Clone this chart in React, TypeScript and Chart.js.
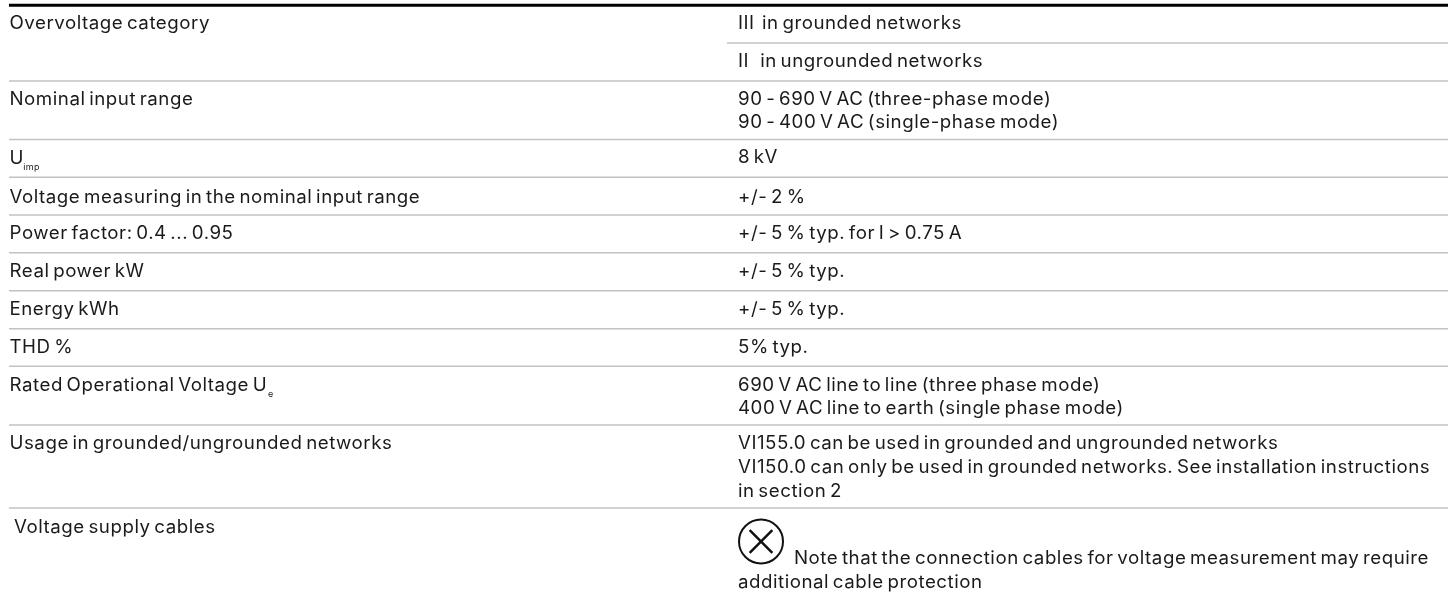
import React, { useEffect, useRef } from "react";
import { Chart, registerables } from "chart.js";

Chart.register(...registerables);

const FONT_FAMILY = "Inter";
const FONT_SIZE = 18;
const LETTER_SPACING = "0.5px";
const WORD_SPACING = "-2px";
const GLYPH_STRETCH = 1.04;
const TEXT_COLOR = "#1a1a1a";

const ruleRows = [43, 81, 139.5, 177.3, 215, 252.7, 290.7, 328.7, 366.3, 425, 508];
const ruleStarts = [727, 9, 9, 9, 9, 9, 9, 9, 9, 9, 9];
const topRuleRow = 5.3;

const leftLabels = [
  "Overvoltage category",
  "Nominal input range",
  "U",
  "Voltage measuring in the nominal input range",
  "Power factor: 0.4 ... 0.95",
  "Real power kW",
  "Energy kWh",
  "THD %",
  "Rated Operational Voltage U",
  "Usage in grounded/ungrounded networks",
  "Voltage supply cables",
];
const leftRows = [29, 105, 164, 202.7, 239.3, 277, 315, 353.3, 391.3, 449, 532.7];
const leftColumns = [9.5, 9.5, 9.5, 9.5, 9.5, 9.5, 9.5, 9.5, 9.5, 9.5, 14];

const subscriptLabels = ["imp", "e"];
const subscriptRows = [170, 396.7];
const subscriptColumns = [23.3, 268];

const rightLabels = [
  "III  in grounded networks",
  "II   in ungrounded networks",
  "90 - 690 V AC (three-phase mode)",
  "90 - 400 V AC (single-phase mode)",
  "8 kV",
  "+/- 2 %",
  "+/- 5 % typ. for I > 0.75 A",
  "+/- 5 % typ.",
  "+/- 5 % typ.",
  "5% typ.",
  "690 V AC line to line (three phase mode)",
  "400 V AC line to earth (single phase mode)",
  "VI155.0 can be used in grounded and ungrounded networks",
  "VI150.0 can only be used in grounded networks. See installation instructions",
  "in section 2",
  "Note that the connection cables for voltage measurement may require",
  "additional cable protection",
];
const rightRows = [29, 67.3, 105, 128.3, 163.3, 202.7, 239.3, 277, 315, 353.3, 391.3, 414, 449, 472.7, 496.7, 564, 588];
const rightColumns = [738, 738, 738, 738, 738, 738, 738, 738, 738, 738, 738, 738, 738, 738, 738, 794, 738];

const iconColumn = [761];
const iconRow = [541.5];

const tableText = {
  id: "tableText",
  afterDatasetsDraw(chart: any) {
    const { ctx, scales } = chart;
    const put = (labels: string[], xs: number[], ys: number[], size: number, body: boolean) => {
      ctx.save();
      ctx.fillStyle = TEXT_COLOR;
      ctx.font = `${size}px ${FONT_FAMILY}`;
      ctx.letterSpacing = body ? LETTER_SPACING : "0.3px";
      ctx.wordSpacing = body ? WORD_SPACING : "0px";
      ctx.textBaseline = "alphabetic";
      ctx.textAlign = "left";
      labels.forEach((t, i) => {
        ctx.save();
        ctx.translate(scales.x.getPixelForValue(xs[i]), scales.y.getPixelForValue(ys[i]));
        ctx.scale(body ? GLYPH_STRETCH : 1, 1);
        ctx.fillText(t, 0, 0);
        ctx.restore();
      });
      ctx.restore();
    };
    put(leftLabels, leftColumns, leftRows, FONT_SIZE, true);
    put(rightLabels, rightColumns, rightRows, FONT_SIZE, true);
    put(subscriptLabels, subscriptColumns, subscriptRows, 9, false);
  },
};

export default function App() {
  const ref = useRef<HTMLCanvasElement>(null);
  useEffect(() => {
    const ruleSets = ruleRows.map((y, i) => ({
      type: "line" as const,
      data: [{ x: ruleStarts[i], y }, { x: 1448, y }],
      borderColor: "#c2c2c2",
      borderWidth: 1.5,
      pointRadius: 0,
      showLine: true,
    }));
    const chart = new Chart(ref.current!, {
      type: "scatter",
      data: {
        datasets: [
          {
            type: "line",
            data: [{ x: 9, y: topRuleRow }, { x: 1448, y: topRuleRow }],
            borderColor: "#000000",
            borderWidth: 3,
            pointRadius: 0,
            showLine: true,
          },
          ...ruleSets,
          {
            data: iconColumn.map((x, i) => ({ x, y: iconRow[i] })),
            pointStyle: "circle",
            pointRadius: 22,
            pointBorderColor: "#111111",
            pointBorderWidth: 2,
            pointBackgroundColor: "transparent",
          },
          {
            data: iconColumn.map((x, i) => ({ x, y: iconRow[i] })),
            pointStyle: "crossRot",
            pointRadius: 16,
            pointBorderColor: "#111111",
            pointBorderWidth: 2.5,
            pointBackgroundColor: "transparent",
          },
        ],
      } as any,
      options: {
        animation: false,
        responsive: false,
        layout: { padding: 0, autoPadding: false },
        plugins: { legend: { display: false }, tooltip: { enabled: false } },
        scales: {
          x: { type: "linear", min: 0, max: 1448, display: false },
          y: { type: "linear", min: 0, max: 592, reverse: true, display: false },
        },
      },
      plugins: [tableText],
    });
    return () => chart.destroy();
  }, []);
  return (
    <div style={{ position: "fixed", left: 0, top: 0, width: 1448, height: 592, background: "#fff" }}>
      <canvas ref={ref} width={1448} height={592} style={{ display: "block" }} />
    </div>
  );
}
